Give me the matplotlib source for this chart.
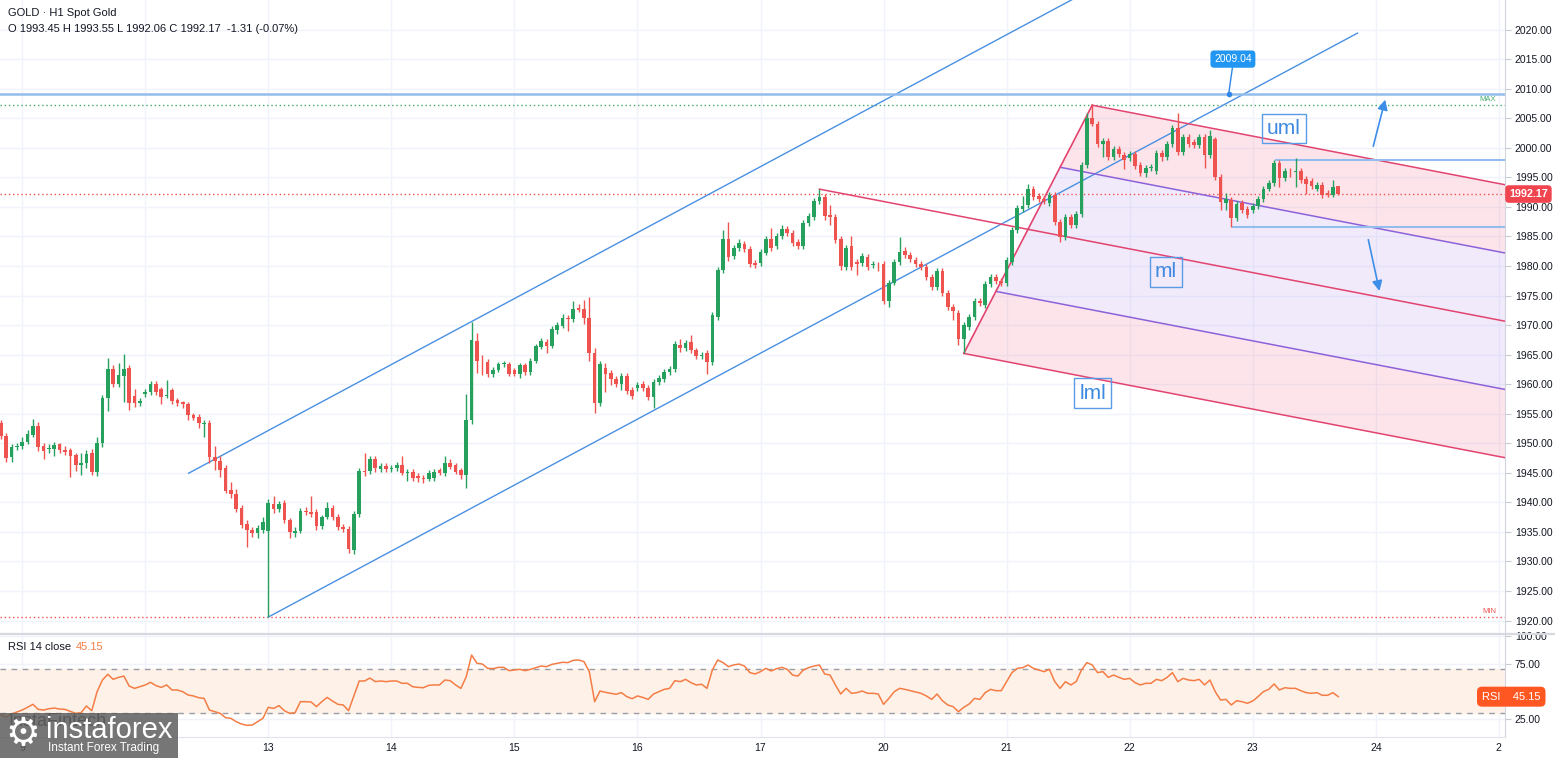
import matplotlib.pyplot as plt
import matplotlib.patches as patches
import numpy as np

plt.rcParams['font.family'] = ['Liberation Sans', 'DejaVu Sans']

# ---------------- data (H1 candles) ----------------
opens = [
    1953.4, 1951.2, 1947.6, 1949.3, 1949.6, 1950.2, 1951.4, 1953.0, 1949.5, 1949.0,
    1949.0, 1949.8, 1948.8, 1948.8, 1948.0, 1946.4, 1946.6, 1948.4, 1945.2, 1950.1,
    1957.7, 1962.5, 1960.1, 1961.3, 1962.7, 1958.0, 1956.8, 1958.4, 1958.6, 1960.1,
    1959.1, 1958.0, 1959.0, 1957.3, 1956.9, 1956.6, 1954.8, 1954.5, 1953.3, 1953.5,
    1947.6, 1947.0, 1945.8, 1942.1, 1941.5, 1939.0, 1936.4, 1935.4, 1934.8, 1935.3,
    1935.2, 1939.8, 1938.8, 1939.9, 1937.0, 1934.8, 1935.2, 1938.6, 1938.4, 1938.3,
    1936.0, 1937.6, 1939.1, 1937.5, 1935.8, 1935.5, 1932.0, 1938.0, 1945.3, 1945.3,
    1947.4, 1945.6, 1946.2, 1945.7, 1945.8, 1946.3, 1945.0, 1945.2, 1944.5, 1944.2,
    1944.0, 1944.1, 1945.4, 1944.9, 1946.7, 1946.3, 1945.5, 1944.6, 1953.9, 1967.3,
    1963.6, 1963.8, 1961.8, 1962.4, 1963.4, 1963.4, 1962.4, 1961.8, 1963.2, 1962.0,
    1964.0, 1966.3, 1967.2, 1966.5, 1969.2, 1969.9, 1971.2, 1971.0, 1972.9, 1972.7,
    1971.2, 1965.2, 1956.8, 1962.8, 1961.9, 1960.8, 1960.0, 1961.4, 1959.0, 1959.3,
    1960.0, 1959.3, 1957.9, 1960.4, 1960.9, 1962.0, 1962.5, 1966.7, 1966.1, 1967.1,
    1965.7, 1964.7, 1965.2, 1963.8, 1971.4, 1979.3, 1984.5, 1981.7, 1983.0, 1983.8,
    1982.9, 1980.5, 1980.5, 1982.2, 1984.5, 1983.3, 1985.0, 1986.2, 1985.6, 1984.1,
    1983.3, 1987.3, 1988.3, 1991.0, 1991.6, 1988.6, 1988.3, 1984.5, 1979.9, 1983.3,
    1980.6, 1980.5, 1981.6, 1980.1, 1980.2, 1980.4, 1974.1, 1977.2, 1980.7, 1982.5,
    1981.9, 1981.0, 1980.3, 1979.9, 1978.2, 1976.5, 1979.1, 1975.4, 1973.0, 1972.1,
    1967.7, 1969.7, 1971.4, 1974.1, 1973.4, 1976.9, 1978.1, 1977.5, 1977.1, 1980.7,
    1986.1, 1989.7, 1990.3, 1993.0, 1991.9, 1991.4, 1990.6, 1992.0, 1987.5, 1984.9,
    1988.3, 1986.9, 1988.8, 1997.1, 2005.0, 2004.1, 2000.7, 2001.2, 1998.4, 1999.8,
    1998.8, 1998.2, 1998.9, 1997.1, 1995.8, 1996.6, 1996.1, 1999.1, 1998.5, 2000.6,
    2003.3, 1999.2, 2001.9, 2000.9, 2000.4, 2001.8, 1998.8, 2001.4, 1995.0, 1990.7,
    1991.2, 1988.1, 1990.6, 1989.7, 1989.5, 1990.1, 1991.4, 1993.1, 1994.0, 1997.5,
    1994.8, 1996.1, 1995.9, 1996.0, 1994.7, 1994.3, 1993.1, 1993.7, 1992.4, 1992.0,
    1993.45,
]
highs = [
    1954.0, 1951.8, 1949.8, 1950.0, 1951.0, 1952.2, 1954.1, 1953.6, 1950.0, 1949.8,
    1950.2, 1950.1, 1949.6, 1949.2, 1948.4, 1948.3, 1948.8, 1949.0, 1951.0, 1958.2,
    1964.4, 1963.3, 1963.5, 1965.1, 1963.2, 1959.2, 1957.6, 1959.1, 1960.6, 1960.5,
    1959.5, 1960.7, 1959.4, 1957.6, 1957.2, 1957.0, 1955.2, 1954.9, 1953.9, 1953.9,
    1949.5, 1947.8, 1946.3, 1943.4, 1942.2, 1939.5, 1937.0, 1935.9, 1936.2, 1937.6,
    1940.5, 1941.0, 1940.3, 1940.4, 1937.4, 1935.8, 1939.1, 1939.2, 1941.0, 1938.8,
    1937.9, 1940.0, 1939.6, 1938.0, 1936.3, 1936.0, 1938.5, 1945.9, 1948.4, 1947.9,
    1947.9, 1946.7, 1946.6, 1946.4, 1946.8, 1947.8, 1945.7, 1945.6, 1944.9, 1944.6,
    1945.4, 1945.6, 1945.9, 1947.8, 1947.3, 1946.7, 1945.9, 1958.4, 1970.6, 1968.6,
    1965.0, 1964.3, 1962.9, 1963.8, 1964.0, 1963.8, 1962.8, 1963.6, 1963.6, 1964.4,
    1966.8, 1967.8, 1967.6, 1969.8, 1970.6, 1971.8, 1971.7, 1974.0, 1973.6, 1974.2,
    1974.8, 1966.1, 1963.9, 1963.5, 1962.4, 1961.3, 1961.9, 1961.9, 1959.5, 1960.4,
    1960.5, 1959.8, 1960.9, 1961.5, 1962.6, 1963.0, 1967.3, 1967.6, 1967.5, 1968.4,
    1966.2, 1965.5, 1965.7, 1972.2, 1979.8, 1986.1, 1987.5, 1983.6, 1984.5, 1984.3,
    1983.4, 1981.0, 1982.8, 1985.0, 1986.5, 1985.6, 1987.0, 1986.7, 1986.1, 1984.6,
    1987.8, 1988.9, 1991.5, 1993.0, 1992.1, 1990.3, 1988.8, 1985.0, 1983.6, 1985.0,
    1981.1, 1982.2, 1982.1, 1980.8, 1980.7, 1980.9, 1977.7, 1981.2, 1984.9, 1983.2,
    1982.4, 1981.5, 1980.8, 1980.4, 1978.7, 1979.6, 1979.6, 1975.9, 1973.5, 1972.6,
    1970.5, 1971.9, 1974.6, 1974.6, 1977.4, 1978.6, 1978.6, 1978.0, 1981.5, 1986.6,
    1990.3, 1991.8, 1993.8, 1993.5, 1992.4, 1991.9, 1992.5, 1992.5, 1988.0, 1988.8,
    1988.8, 1989.3, 1997.6, 2005.8, 2007.2, 2004.6, 2001.6, 2001.7, 2000.3, 2000.3,
    1999.3, 1999.5, 1999.4, 1997.6, 1997.0, 1997.3, 1999.6, 1999.6, 2001.1, 2003.9,
    2005.9, 2002.4, 2002.4, 2001.4, 2002.3, 2002.3, 2003.0, 2001.9, 1995.5, 1992.4,
    1991.7, 1991.0, 1991.1, 1990.2, 1990.6, 1991.9, 1993.6, 1994.5, 1997.9, 1998.0,
    1996.6, 1996.6, 1998.2, 1996.5, 1995.2, 1994.8, 1994.2, 1994.2, 1992.9, 1994.5,
    1993.55,
]
lows = [
    1950.8, 1946.9, 1946.8, 1948.9, 1949.1, 1949.8, 1951.0, 1948.7, 1947.4, 1948.3,
    1947.9, 1948.4, 1948.0, 1944.3, 1945.3, 1944.6, 1945.9, 1944.6, 1944.4, 1949.4,
    1955.4, 1959.6, 1959.5, 1957.0, 1955.6, 1956.2, 1956.3, 1957.8, 1958.2, 1958.2,
    1956.6, 1957.6, 1956.6, 1956.3, 1955.9, 1953.9, 1953.9, 1952.6, 1951.0, 1946.6,
    1945.4, 1944.3, 1941.6, 1940.8, 1938.3, 1935.6, 1932.5, 1934.2, 1934.0, 1934.9,
    1920.6, 1938.2, 1938.3, 1936.5, 1934.0, 1934.1, 1934.9, 1937.9, 1937.6, 1935.4,
    1935.5, 1937.2, 1937.0, 1935.3, 1935.0, 1931.4, 1931.2, 1937.6, 1944.5, 1944.8,
    1945.2, 1945.1, 1945.2, 1945.2, 1945.3, 1944.6, 1943.6, 1943.7, 1943.4, 1943.3,
    1943.6, 1943.7, 1944.6, 1944.4, 1945.6, 1944.8, 1944.0, 1942.4, 1953.2, 1961.9,
    1961.6, 1961.2, 1961.2, 1962.0, 1962.9, 1961.3, 1961.3, 1961.0, 1961.6, 1961.6,
    1963.6, 1965.9, 1965.2, 1966.1, 1968.5, 1969.5, 1969.0, 1970.6, 1972.2, 1970.2,
    1964.0, 1955.1, 1956.3, 1958.6, 1959.8, 1959.5, 1959.0, 1958.3, 1957.5, 1958.8,
    1958.8, 1957.3, 1955.9, 1959.8, 1960.4, 1961.5, 1962.0, 1965.5, 1965.6, 1965.2,
    1964.2, 1964.2, 1961.7, 1963.3, 1970.9, 1978.8, 1980.9, 1981.2, 1982.5, 1982.4,
    1979.9, 1979.6, 1980.0, 1981.8, 1982.5, 1982.8, 1984.5, 1985.1, 1983.4, 1982.8,
    1982.8, 1986.8, 1987.8, 1990.5, 1987.8, 1986.9, 1983.9, 1979.4, 1979.4, 1979.4,
    1978.5, 1980.0, 1979.4, 1979.6, 1979.2, 1973.6, 1973.1, 1976.7, 1980.2, 1981.4,
    1980.6, 1979.8, 1979.4, 1977.7, 1976.0, 1976.0, 1974.9, 1972.5, 1970.8, 1966.6,
    1965.2, 1969.2, 1970.9, 1973.2, 1972.9, 1976.4, 1977.0, 1976.6, 1976.6, 1980.2,
    1985.6, 1989.2, 1989.8, 1991.2, 1990.9, 1990.5, 1990.1, 1987.0, 1984.0, 1984.4,
    1986.4, 1986.4, 1988.3, 1996.6, 2003.6, 2000.2, 1998.4, 1997.9, 1997.9, 1998.4,
    1996.4, 1997.7, 1996.4, 1995.3, 1995.0, 1996.1, 1995.6, 1997.8, 1998.0, 2000.1,
    1998.7, 1998.7, 2000.2, 1999.9, 1999.9, 1996.5, 1998.3, 1994.5, 1989.5, 1989.5,
    1986.6, 1987.6, 1989.0, 1988.1, 1989.0, 1989.6, 1990.9, 1992.6, 1993.5, 1993.4,
    1994.3, 1995.1, 1993.4, 1994.0, 1992.2, 1993.1, 1992.6, 1991.5, 1991.6, 1991.6,
    1992.06,
]
closes = [
    1951.2, 1947.5, 1949.3, 1949.6, 1950.3, 1951.6, 1953.0, 1949.4, 1948.7, 1949.2,
    1949.7, 1948.8, 1948.6, 1947.8, 1946.3, 1946.6, 1948.2, 1945.2, 1950.1, 1957.7,
    1962.5, 1960.1, 1961.5, 1962.5, 1956.8, 1956.8, 1957.1, 1958.7, 1960.1, 1958.6,
    1957.8, 1958.2, 1957.1, 1956.8, 1956.6, 1954.8, 1954.3, 1953.4, 1953.5, 1947.6,
    1947.0, 1945.5, 1942.0, 1941.4, 1938.9, 1936.2, 1935.4, 1934.8, 1935.6, 1936.6,
    1939.9, 1938.8, 1939.8, 1937.0, 1935.0, 1935.2, 1938.5, 1938.4, 1938.0, 1936.0,
    1937.5, 1939.0, 1937.5, 1935.8, 1935.5, 1932.1, 1938.0, 1945.3, 1945.1, 1947.4,
    1945.8, 1946.2, 1945.6, 1945.9, 1946.3, 1945.0, 1945.2, 1944.2, 1944.2, 1943.9,
    1945.0, 1945.2, 1945.0, 1946.7, 1946.0, 1945.2, 1944.6, 1953.9, 1967.5, 1964.0,
    1963.5, 1961.7, 1962.4, 1963.4, 1963.6, 1961.8, 1961.8, 1963.2, 1962.0, 1964.0,
    1966.4, 1967.3, 1966.4, 1969.3, 1970.0, 1971.2, 1971.0, 1972.8, 1972.6, 1971.2,
    1965.2, 1956.8, 1963.4, 1961.8, 1960.9, 1960.1, 1961.4, 1958.9, 1958.0, 1959.9,
    1959.3, 1957.9, 1960.4, 1961.0, 1962.1, 1962.5, 1966.8, 1966.1, 1967.0, 1965.7,
    1964.7, 1964.9, 1963.8, 1971.7, 1979.3, 1984.5, 1981.6, 1983.0, 1983.9, 1982.9,
    1980.4, 1980.2, 1982.3, 1984.5, 1983.0, 1985.1, 1986.2, 1985.6, 1983.9, 1983.3,
    1987.3, 1988.4, 1991.0, 1991.6, 1988.4, 1988.3, 1984.4, 1980.0, 1983.1, 1979.9,
    1980.4, 1981.7, 1979.9, 1980.3, 1980.1, 1974.1, 1977.2, 1980.7, 1982.4, 1981.9,
    1981.1, 1980.3, 1979.9, 1978.2, 1976.5, 1979.1, 1975.4, 1973.0, 1972.3, 1967.7,
    1970.0, 1971.4, 1974.1, 1973.7, 1976.9, 1978.1, 1977.5, 1977.1, 1981.0, 1986.1,
    1989.8, 1990.2, 1993.0, 1991.7, 1991.4, 1991.0, 1992.0, 1987.5, 1984.9, 1988.3,
    1986.9, 1988.8, 1997.1, 2005.0, 2004.1, 2000.7, 2001.1, 1998.4, 1999.8, 1998.9,
    1997.9, 1999.0, 1996.9, 1995.8, 1996.5, 1996.8, 1999.1, 1998.5, 2000.6, 2003.4,
    1999.2, 2001.9, 2000.7, 2000.4, 2001.8, 1998.8, 2002.0, 1995.0, 1990.9, 1991.4,
    1988.1, 1990.5, 1989.5, 1988.6, 1990.1, 1991.4, 1993.1, 1994.0, 1997.5, 1994.8,
    1996.1, 1996.0, 1996.1, 1994.5, 1993.9, 1993.6, 1993.7, 1992.0, 1992.0, 1993.4,
    1992.17,
]
rsi_values = [
    28.5, 26.4, 29.4, 31.2, 33.0, 35.5, 38.2, 33.6, 33.0, 34.2,
    34.8, 33.9, 33.6, 31.8, 30.0, 30.6, 36.7, 32.4, 49.7, 60.3,
    65.5, 60.9, 62.7, 63.9, 54.8, 52.7, 54.2, 55.8, 58.2, 55.2,
    53.6, 55.8, 51.2, 51.2, 49.7, 46.7, 45.8, 44.2, 43.6, 33.0,
    31.5, 30.0, 26.1, 25.5, 22.4, 20.3, 19.1, 19.4, 22.4, 25.5,
    35.5, 34.5, 37.0, 32.4, 30.0, 30.6, 40.6, 40.6, 40.3, 36.1,
    40.6, 44.5, 41.2, 38.2, 37.6, 32.4, 45.8, 59.4, 59.4, 62.1,
    58.8, 59.4, 58.8, 59.4, 59.4, 57.3, 57.3, 54.2, 53.6, 53.3,
    55.5, 55.8, 55.8, 60.3, 59.7, 55.8, 52.7, 63.3, 83.0, 75.5,
    74.8, 70.9, 70.6, 71.8, 71.8, 68.8, 69.4, 70.0, 68.8, 70.0,
    71.5, 73.0, 72.4, 74.5, 75.5, 76.4, 76.1, 78.2, 78.5, 77.0,
    67.9, 40.6, 50.3, 49.1, 48.2, 47.3, 48.8, 45.2, 43.3, 45.8,
    44.5, 42.7, 47.6, 49.7, 51.8, 52.7, 59.7, 58.8, 60.9, 57.9,
    55.8, 56.4, 52.7, 69.4, 78.5, 76.1, 72.4, 74.0, 74.8, 73.0,
    67.0, 65.8, 67.9, 70.9, 68.5, 70.6, 71.8, 70.0, 64.8, 63.9,
    69.4, 71.5, 73.0, 73.9, 65.8, 64.8, 55.8, 47.6, 52.7, 48.2,
    48.8, 50.3, 48.2, 48.2, 47.6, 38.2, 43.6, 49.7, 52.7, 51.8,
    50.6, 49.4, 48.2, 45.8, 42.7, 47.6, 41.5, 37.6, 36.1, 31.5,
    35.5, 38.5, 43.6, 42.7, 48.8, 51.8, 50.6, 50.6, 58.8, 67.0,
    70.9, 71.5, 73.9, 70.9, 69.4, 67.9, 70.0, 58.8, 52.7, 58.8,
    55.8, 58.8, 69.4, 76.1, 74.0, 67.0, 67.9, 62.7, 64.8, 62.7,
    60.9, 61.8, 57.9, 55.8, 57.3, 57.3, 60.9, 59.7, 62.7, 67.0,
    58.8, 61.8, 60.3, 59.7, 60.9, 55.8, 60.3, 49.7, 42.1, 42.7,
    37.6, 41.5, 40.6, 39.1, 41.2, 45.2, 49.7, 51.8, 56.7, 51.2,
    53.3, 52.7, 52.7, 50.6, 48.8, 48.2, 48.8, 46.4, 46.4, 48.8,
    45.15,
]

# first candle of each session and its day label
day_pos = [4, 27, 50, 73, 96, 119, 142, 165, 188, 211, 234, 257, 280]
day_names = ['9', '10', '13', '14', '15', '16', '17', '20', '21', '22', '23', '24', '2']
price_ticks = np.arange(1920, 2021, 5)
rsi_ticks = [25, 50, 75, 100]

level_top = 2009.04        # drawn horizontal level
box_hi, box_lo = 1998.0, 1986.6   # range lines of the last session
change, change_pct = -1.31, -0.07

# channel drawing anchors (candle index, price)
ch_lower_end = (253.6, 2019.4)
ch_upper_start = 35.1

# ---------------- style ----------------
UP, DOWN = '#26a15d', '#ef5350'
BLUE = '#4a90e2'
LIGHT_BLUE = '#93bdec'
PF_RED = '#e2446f'
PF_PURPLE = '#8c62da'
TXT = '#131722'
GRID = '#f0f3fa'
RSI_COL = '#f47d45'

W, H = 1555, 758
fig = plt.figure(figsize=(W / 100, H / 100), dpi=100)
ax = fig.add_axes([0, 125 / H, 1505 / W, 633 / H])
ax_rsi = fig.add_axes([0, 21 / H, 1505 / W, 102 / H])

x_left, x_right = -0.15, -0.15 + 1505 / 5.35

x = np.arange(len(closes))
o, h, l, c = (np.array(v) for v in (opens, highs, lows, closes))
col = np.where(c >= o, UP, DOWN)

# candles
ax.vlines(x, l, h, colors=col, lw=1, zorder=5)
ax.bar(x, np.maximum(np.abs(c - o), 0.12), bottom=np.minimum(o, c), width=0.68,
       color=col, linewidth=0, zorder=6)

# ascending channel
slope_ch = (ch_lower_end[1] - lows[50]) / (ch_lower_end[0] - 50)
ax.plot([50, ch_lower_end[0]], [lows[50], ch_lower_end[1]], color=BLUE, lw=1, zorder=3)
up_x = np.array([ch_upper_start, 240])
ax.plot(up_x, highs[88] + slope_ch * (up_x - 88), color=BLUE, lw=1, zorder=3)

# pitchfork: pivots A (high), B (high), C (low)
A = np.array([153, highs[153]])
B = np.array([204, highs[204]])
C = np.array([180, lows[180]])
M = (B + C) / 2
slope_pf = (M[1] - A[1]) / (M[0] - A[0])
starts = [B, (B + M) / 2, M, (M + C) / 2, C]
ends = [np.array([x_right, s[1] + slope_pf * (x_right - s[0])]) for s in starts]
fills = [(0.95, 0.2, 0.4, 0.13), (0.55, 0.35, 0.9, 0.12),
         (0.55, 0.35, 0.9, 0.12), (0.95, 0.2, 0.4, 0.13)]
for k in range(4):
    poly = patches.Polygon([starts[k], ends[k], ends[k + 1], starts[k + 1]],
                           closed=True, facecolor=fills[k], edgecolor='none', zorder=1)
    ax.add_patch(poly)
line_cols = [PF_RED, PF_PURPLE, PF_RED, PF_PURPLE, PF_RED]
for s, e, lc in zip(starts, ends, line_cols):
    ax.plot([s[0], e[0]], [s[1], e[1]], color=lc, lw=1.1, zorder=3)
ax.plot([A[0], M[0]], [A[1], M[1]], color=PF_RED, lw=1.1, zorder=3)
ax.plot([C[0], B[0]], [C[1], B[1]], color=PF_RED, lw=1.2, zorder=3)

for txt, xi, yi in [('uml', 239.8, 2003.3), ('ml', 217.8, 1979.0), ('lml', 204.1, 1958.5)]:
    ax.text(xi, yi, txt, color='#3f8ae0', fontsize=15, ha='center', va='center', zorder=8,
            bbox=dict(boxstyle='square,pad=0.25', fc='none', ec='#5b9be6', lw=1))

# horizontal levels
ax.axhline(level_top, color=LIGHT_BLUE, lw=1.8, zorder=3)
ax.plot([229.5], [level_top], 'o', ms=3, color='#2f86e6', zorder=7)
ax.plot([229.5, 230.2], [level_top, 2013.5], color='#2f86e6', lw=1, zorder=7)
ax.text(230.3, 2015.0, f'{level_top:.2f}', color='white', fontsize=7.5, ha='center',
        va='center', zorder=8, bbox=dict(boxstyle='round,pad=0.35', fc='#2196f3', ec='none'))
ax.plot([238.3, x_right], [box_hi, box_hi], color=LIGHT_BLUE, lw=1.5, zorder=3)
ax.plot([230.4, x_right], [box_lo, box_lo], color=LIGHT_BLUE, lw=1.5, zorder=3)

# max / min / last price dotted lines
ax.axhline(max(highs), color='#43a96b', lw=1, ls=(0, (1, 2)), zorder=2)
ax.axhline(min(lows), color='#ef5350', lw=1, ls=(0, (1, 2)), zorder=2)
ax.axhline(closes[-1], color='#ef5350', lw=1, ls=(0, (1, 2)), zorder=2)
ax.text(0.994, max(highs) + 0.9, 'MAX', transform=ax.get_yaxis_transform(), ha='right',
        va='center', fontsize=5.5, color='#43a96b')
ax.text(0.994, min(lows) + 1.0, 'MIN', transform=ax.get_yaxis_transform(), ha='right',
        va='center', fontsize=5.5, color='#ef5350')

# arrows
arrow = dict(arrowstyle='-|>', color='#3d8ee8', lw=1.2, mutation_scale=15)
ax.annotate('', xy=(258.9, 2008.6), xytext=(256.4, 1999.8), arrowprops=arrow, zorder=7)
ax.annotate('', xy=(257.8, 1975.3), xytext=(255.5, 1984.9), arrowprops=arrow, zorder=7)

# last price tag on the scale
ax.text(1.0 + 4 / 1505, closes[-1], f'{closes[-1]:.2f}', transform=ax.get_yaxis_transform(),
        ha='left', va='center', color='white', fontsize=7.8, fontweight='bold', clip_on=False,
        zorder=9, bbox=dict(boxstyle='round,pad=0.35', fc='#f0454f', ec='none'))

# main axes styling
ax.set_xlim(x_left, x_right)
ax.set_ylim(1917.9, 2025.0)
ax.set_xticks(day_pos)
ax.set_yticks(price_ticks)
ax.set_yticklabels([f'{v:.2f}' for v in price_ticks])
ax.yaxis.tick_right()
ax.tick_params(axis='x', length=0, labelbottom=False)
ax.tick_params(axis='y', length=4, color='#c8cbd3', labelsize=7.5, labelcolor=TXT, pad=3)
ax.grid(True, color=GRID, lw=1)
ax.set_axisbelow(True)
for side in ['top', 'left', 'bottom']:
    ax.spines[side].set_visible(False)
ax.spines['right'].set_color('#d1d4dc')

# ---------------- RSI panel ----------------
ax_rsi.axhspan(30, 70, color='#fef1e8', zorder=0.6)
ax_rsi.axhline(70, color='#9a9da6', lw=1, ls=(0, (4, 4)), zorder=1)
ax_rsi.axhline(30, color='#9a9da6', lw=1, ls=(0, (4, 4)), zorder=1)
ax_rsi.plot(x, rsi_values, color=RSI_COL, lw=1.1, zorder=3)
ax_rsi.set_xlim(x_left, x_right)
ax_rsi.set_ylim(8.5, 101.2)
ax_rsi.set_xticks(day_pos)
ax_rsi.set_xticklabels(day_names)
ax_rsi.set_yticks(rsi_ticks)
ax_rsi.set_yticklabels([f'{v:.2f}' for v in rsi_ticks])
ax_rsi.yaxis.tick_right()
ax_rsi.tick_params(axis='x', length=0, labelsize=7.5, labelcolor=TXT, pad=4)
ax_rsi.tick_params(axis='y', length=4, color='#c8cbd3', labelsize=7.5, labelcolor=TXT, pad=3)
ax_rsi.grid(True, color=GRID, lw=1)
ax_rsi.set_axisbelow(True)
for side in ['top', 'left']:
    ax_rsi.spines[side].set_visible(False)
ax_rsi.spines['right'].set_color('#d1d4dc')
ax_rsi.spines['bottom'].set_color('#e0e3eb')
ax_rsi.text(1482 / 1505, rsi_values[-1], f'RSI    {rsi_values[-1]:.2f}',
            transform=ax_rsi.get_yaxis_transform(), ha='left', va='center', color='white',
            fontsize=8, clip_on=False, zorder=9,
            bbox=dict(boxstyle='round,pad=0.45', fc='#ff5722', ec='none'))


def px(xp, yp):
    return xp / W, 1 - yp / H


# separator between panes
fig.add_artist(plt.Line2D([0, 1], [1 - 634 / H] * 2, color='#d6d9e0', lw=1.6))

# legends / headers
fig.text(*px(8, 13), 'GOLD · H1 Spot Gold', fontsize=8, color=TXT, va='center')
fig.text(*px(8, 29),
         f'O {opens[-1]:.2f} H {highs[-1]:.2f} L {lows[-1]:.2f} C {closes[-1]:.2f}  '
         f'{change:.2f} ({change_pct:.2f}%)', fontsize=8, color=TXT, va='center')
fig.text(*px(8, 647), 'RSI 14 close', fontsize=8, color=TXT, va='center')
fig.text(*px(76, 647), f'{rsi_values[-1]:.2f}', fontsize=8, color=RSI_COL, va='center')

# watermark logo
fig.text(*px(8, 722), 'InstaFintech', fontsize=13, color='#3a3a3a', va='center', zorder=9)
fig.add_artist(patches.Rectangle((0, 0), 178 / W, 45 / H, transform=fig.transFigure,
                                 facecolor='#5e5e5e', alpha=0.85, edgecolor='none', zorder=10))
fig.text(*px(23, 734), '\u2699', fontsize=28, color='white', ha='center', va='center',
         family='DejaVu Sans', zorder=11)
fig.text(*px(46, 730), 'instaforex', fontsize=21, color='white', va='center', zorder=11)
fig.text(*px(48, 748), 'Instant Forex Trading', fontsize=8.5, color='white', va='center', zorder=11)

fig.savefig('out.png', dpi=100)
